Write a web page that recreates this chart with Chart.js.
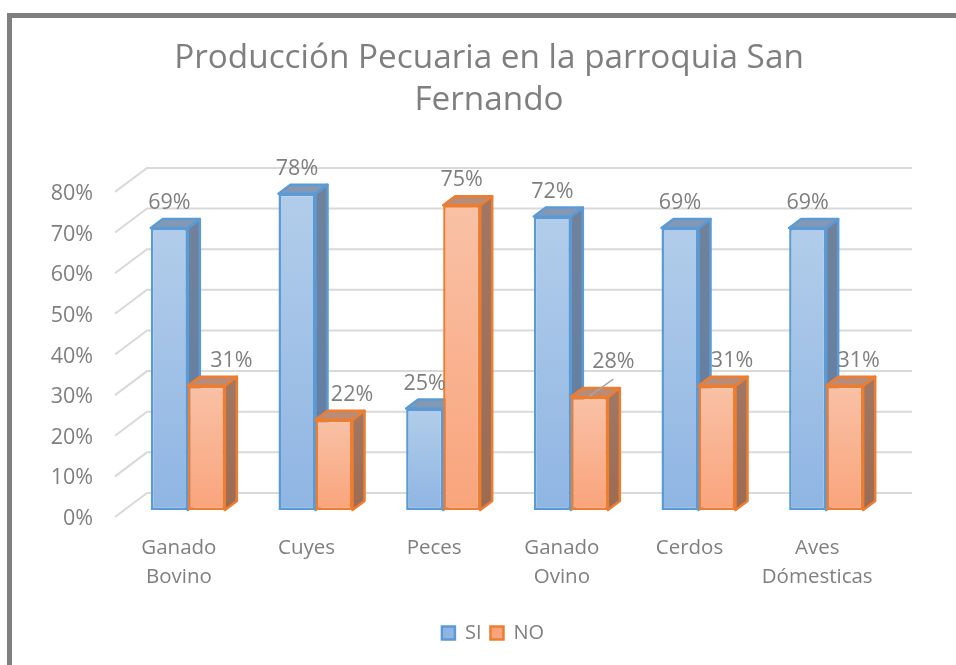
<!DOCTYPE html>
<html>
<head>
<meta charset="utf-8">
<title>Producción Pecuaria</title>
<script src="https://cdn.jsdelivr.net/npm/chart.js@4"></script>
<style>
  html, body { margin: 0; padding: 0; background: #fff; overflow: hidden; }
  #frame { position: absolute; left: 7px; top: 13px; right: 0; bottom: 0; border-top: 5px solid #7f7f7f; border-left: 5px solid #7f7f7f; }
  #wrap { position: absolute; left: 0; top: 0; width: 956px; height: 665px; }
</style>
</head>
<body>
<div id="frame"></div>
<div id="wrap"><canvas id="chart" width="956" height="665"></canvas></div>
<script>
const categories = [['Ganado', 'Bovino'], 'Cuyes', 'Peces', ['Ganado', 'Ovino'], 'Cerdos', ['Aves', 'Dómesticas']];
const siValues = [69.4, 77.8, 25, 72.2, 69.4, 69.4];
const noValues = [30.6, 22.2, 75, 27.8, 30.6, 30.6];

const FONT = '"Open Sans", sans-serif';
const TEXT = '#7f7f7f';

// depth of the fake 3D box, and where the floor/back walls sit relative to the bars
const depthX = 12, depthY = -9;
const backX = 23, backY = -17;
const frontX = -9, frontY = 7;

const looks = [
  { line: '#5b9bd5', top: '#b2cdea', bottom: '#8fb5e3', key: '#a9c6e9', lid: '#8498b3', sideTop: '#70829b', sideBottom: '#5f7ea6' },
  { line: '#ed7d31', top: '#f9c1a6', bottom: '#f9a47b', key: '#f8b898', lid: '#ba8b75', sideTop: '#a07763', sideBottom: '#9c6b53' }
];

// label nudges for the NO series, Excel moved them off the bar
const labelNudge = { 1: { 0: [25, 0], 1: [18, 0], 3: [24, -10], 4: [15, 0], 5: [14, 0] } };

function barFill(look) {
  return function (ctx) {
    if (ctx.type !== 'data') return look.key;
    const y = ctx.chart.scales.y;
    const y0 = y.getPixelForValue(ctx.raw), y1 = y.getPixelForValue(0);
    if (!isFinite(y0) || !isFinite(y1)) return look.bottom;
    const g = ctx.chart.ctx.createLinearGradient(0, y0, 0, y1);
    g.addColorStop(0, look.top);
    g.addColorStop(1, look.bottom);
    return g;
  };
}

const box3d = {
  id: 'box3d',
  afterLayout(chart) {
    // tick labels get clipped to the scale box, let it reach further left
    chart.scales.y.left = 40;
    chart.legend.left += 4;
    chart.legend.right += 4;
  },
  beforeDatasetsDraw(chart) {
    const c = chart.ctx;
    const yScale = chart.scales.y;
    const { left, right } = chart.chartArea;

    // walls
    c.save();
    c.strokeStyle = '#d9d9d9';
    c.lineWidth = 2;
    yScale.ticks.forEach(t => {
      const y = yScale.getPixelForValue(t.value);
      c.beginPath();
      c.moveTo(left + frontX, y + frontY);
      c.lineTo(left + backX, y + backY);
      c.lineTo(right + backX - 1, y + backY);
      c.stroke();
    });
    c.restore();

    // SI first, then NO, so the NO box sits over the SI side face
    chart.data.datasets.forEach((ds, i) => {
      const meta = chart.getDatasetMeta(i);
      const look = looks[i];
      c.save();
      c.lineWidth = 2.5;
      c.lineJoin = 'round';
      c.strokeStyle = look.line;
      meta.data.forEach(bar => {
        const l = bar.x - bar.width / 2, r = bar.x + bar.width / 2;
        const g = c.createLinearGradient(0, bar.y, 0, bar.base);
        g.addColorStop(0, look.sideTop);
        g.addColorStop(1, look.sideBottom);
        c.fillStyle = g;
        c.beginPath();
        c.moveTo(r, bar.y);
        c.lineTo(r + depthX, bar.y + depthY);
        c.lineTo(r + depthX, bar.base + depthY);
        c.lineTo(r, bar.base);
        c.closePath();
        c.fill();
        c.stroke();
        c.fillStyle = look.lid;
        c.beginPath();
        c.moveTo(l, bar.y);
        c.lineTo(l + depthX, bar.y + depthY);
        c.lineTo(r + depthX, bar.y + depthY);
        c.lineTo(r, bar.y);
        c.closePath();
        c.fill();
        c.stroke();
      });
      c.restore();
      meta.controller.draw();
    });
    return false;
  },
  afterDraw(chart) {
    const c = chart.ctx;
    c.save();
    c.font = '21.5px ' + FONT;
    c.fillStyle = TEXT;
    c.textAlign = 'center';
    c.textBaseline = 'middle';
    chart.data.datasets.forEach((ds, i) => {
      chart.getDatasetMeta(i).data.forEach((bar, j) => {
        const n = (labelNudge[i] && labelNudge[i][j]) || [0, 0];
        c.fillText(Math.round(ds.data[j]) + '%', bar.x + n[0], bar.y - 25 + n[1]);
        // leader line for the moved 28% label
        if (n[1] !== 0) {
          c.strokeStyle = '#a6a6a6';
          c.lineWidth = 1.5;
          c.beginPath();
          c.moveTo(bar.x, bar.y - 1);
          c.lineTo(bar.x + n[0], bar.y - 18);
          c.stroke();
        }
      });
    });
    c.restore();
  }
};

new Chart(document.getElementById('chart'), {
  type: 'bar',
  plugins: [box3d],
  data: {
    labels: categories,
    datasets: [
      { label: 'SI', data: siValues, backgroundColor: barFill(looks[0]), borderColor: looks[0].line, borderWidth: 2.5, borderSkipped: false },
      { label: 'NO', data: noValues, backgroundColor: barFill(looks[1]), borderColor: looks[1].line, borderWidth: 2.5, borderSkipped: false }
    ]
  },
  options: {
    responsive: false,
    animation: false,
    categoryPercentage: 0.58,
    barPercentage: 1,
    layout: { padding: { left: 88, right: 66, top: 0, bottom: 12 } },
    plugins: {
      tooltip: { enabled: false },
      title: {
        display: true,
        text: ['Producción Pecuaria en la parroquia San', 'Fernando'],
        color: TEXT,
        font: { family: FONT, size: 33.3, weight: 'normal', lineHeight: 1.26 },
        padding: { top: 38, bottom: 63 }
      },
      legend: {
        position: 'bottom',
        labels: { color: TEXT, font: { family: FONT, size: 20 }, boxWidth: 13, boxHeight: 13, padding: 9 }
      }
    },
    scales: {
      x: {
        grid: { display: false, drawTicks: false },
        border: { display: false },
        afterFit(s) { s.height = 104; },
        ticks: { color: TEXT, font: { family: FONT, size: 20.5, lineHeight: 1.42 }, maxRotation: 0, autoSkip: false, labelOffset: -9, padding: 23.5 }
      },
      y: {
        min: 0,
        max: 80,
        grid: { display: false, drawTicks: false },
        border: { display: false },
        afterFit(s) { s.width = 36; },
        ticks: { color: TEXT, font: { family: FONT, size: 21.5 }, stepSize: 10, padding: 31, labelOffset: 9, callback: v => v + '%' }
      }
    }
  }
});
</script>
</body>
</html>
